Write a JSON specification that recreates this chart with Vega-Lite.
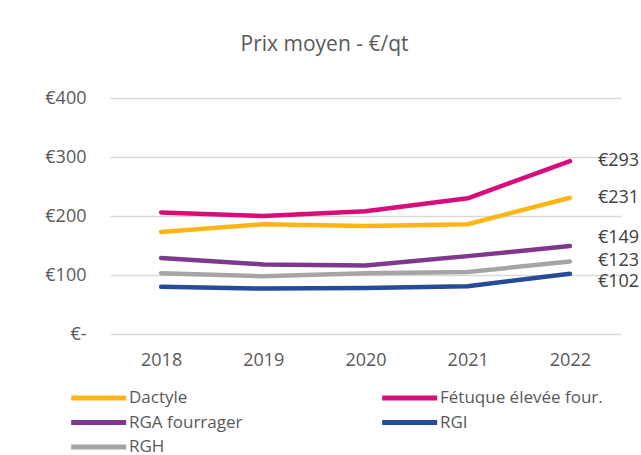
{
  "$schema": "https://vega.github.io/schema/vega-lite/v6.json",
  "width": 511,
  "height": 236,
  "autosize": {"type": "none"},
  "padding": {"left": 110, "top": 98, "right": 20, "bottom": 121},
  "config": {"font": "Open Sans", "view": {"stroke": null}},
  "title": {
    "text": "Prix moyen - €/qt",
    "fontSize": 21,
    "fontWeight": "normal",
    "color": "#595959",
    "anchor": "middle",
    "dx": -41,
    "offset": 34
  },
  "data": {
    "values": [
      {"year": 2018, "series": "Dactyle", "price": 173},
      {"year": 2019, "series": "Dactyle", "price": 186},
      {"year": 2020, "series": "Dactyle", "price": 183},
      {"year": 2021, "series": "Dactyle", "price": 186},
      {"year": 2022, "series": "Dactyle", "price": 231},
      {"year": 2018, "series": "Fétuque élevée four.", "price": 206},
      {"year": 2019, "series": "Fétuque élevée four.", "price": 200},
      {"year": 2020, "series": "Fétuque élevée four.", "price": 208},
      {"year": 2021, "series": "Fétuque élevée four.", "price": 230},
      {"year": 2022, "series": "Fétuque élevée four.", "price": 293},
      {"year": 2018, "series": "RGA fourrager", "price": 129},
      {"year": 2019, "series": "RGA fourrager", "price": 118},
      {"year": 2020, "series": "RGA fourrager", "price": 116},
      {"year": 2021, "series": "RGA fourrager", "price": 132},
      {"year": 2022, "series": "RGA fourrager", "price": 149},
      {"year": 2018, "series": "RGI", "price": 80},
      {"year": 2019, "series": "RGI", "price": 77},
      {"year": 2020, "series": "RGI", "price": 78},
      {"year": 2021, "series": "RGI", "price": 81},
      {"year": 2022, "series": "RGI", "price": 102},
      {"year": 2018, "series": "RGH", "price": 103},
      {"year": 2019, "series": "RGH", "price": 98},
      {"year": 2020, "series": "RGH", "price": 103},
      {"year": 2021, "series": "RGH", "price": 105},
      {"year": 2022, "series": "RGH", "price": 123}
    ]
  },
  "encoding": {
    "x": {
      "field": "year",
      "type": "ordinal",
      "axis": {
        "title": null,
        "domain": false,
        "ticks": false,
        "grid": false,
        "labelAngle": 0,
        "labelFontSize": 18,
        "labelColor": "#595959",
        "labelPadding": 17
      }
    },
    "y": {
      "field": "price",
      "type": "quantitative",
      "scale": {"domain": [0, 400]},
      "axis": {
        "title": null,
        "domain": false,
        "ticks": false,
        "values": [0, 100, 200, 300, 400],
        "labelExpr": "datum.value == 0 ? '€-' : '€' + datum.value",
        "labelFontSize": 18,
        "labelColor": "#595959",
        "labelPadding": 24,
        "gridColor": "#d9d9d9",
        "gridWidth": 1.5
      }
    }
  },
  "layer": [
    {
      "mark": {"type": "line", "strokeWidth": 4.5, "strokeCap": "round", "strokeJoin": "round"},
      "encoding": {
        "color": {
          "field": "series",
          "type": "nominal",
          "scale": {
            "domain": ["Dactyle", "Fétuque élevée four.", "RGA fourrager", "RGI", "RGH"],
            "range": ["#FDB515", "#D80C7B", "#7D3A8C", "#254B99", "#A5A5A5"]
          },
          "legend": {
            "title": null,
            "orient": "none",
            "direction": "horizontal",
            "legendX": -5,
            "legendY": 288,
            "columns": 2,
            "columnPadding": 129,
            "rowPadding": 2.5,
            "symbolType": "M-5,0H1",
            "symbolSize": 336,
            "symbolStrokeWidth": 5,
            "labelFontSize": 17,
            "labelLimit": 300,
            "labelColor": "#595959",
            "labelOffset": 0
          }
        }
      }
    },
    {
      "transform": [{"filter": "datum.year == 2022"}],
      "mark": {
        "type": "text",
        "align": "left",
        "baseline": "middle",
        "dx": 28,
        "fontSize": 18,
        "color": "#404040",
        "text": {"expr": "'€' + datum.price"},
        "dy": {"expr": "datum.series == 'RGA fourrager' ? -8 : datum.series == 'RGI' ? 8 : 0"}
      }
    }
  ]
}
